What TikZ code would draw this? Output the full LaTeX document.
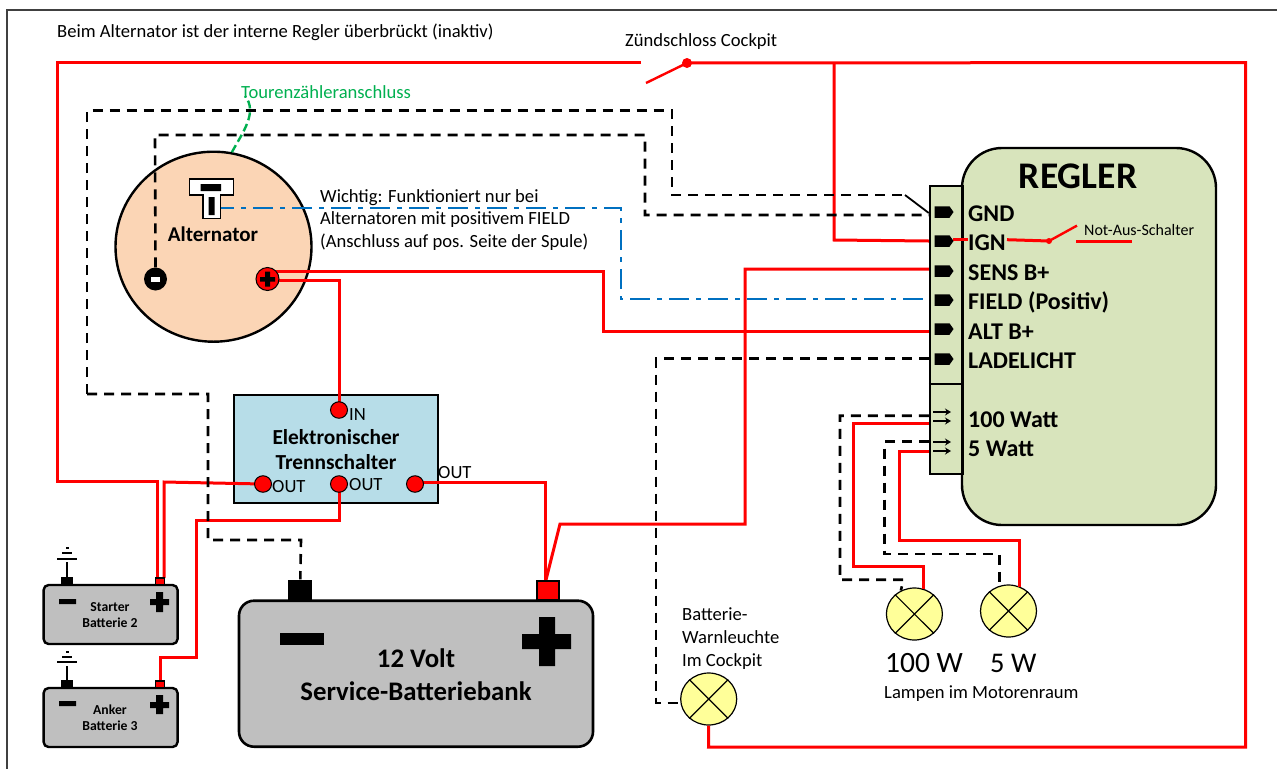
\documentclass[tikz,border=0pt]{standalone}
\usepackage{fontspec}
\setmainfont{Carlito}
\usetikzlibrary{shapes.geometric,shapes.symbols,arrows.meta}
\pgfdeclarelayer{bodies}
\pgfdeclarelayer{tops}
\pgfsetlayers{bodies,main,tops}
\newcommand{\fsz}[1]{\fontsize{#1}{#1}\selectfont}
\definecolor{wirered}{HTML}{FF0000}
\definecolor{wireblue}{HTML}{0070C0}
\definecolor{wiregreen}{HTML}{00B050}
\definecolor{reglergreen}{HTML}{D8E4BC}
\definecolor{altpeach}{HTML}{FBD5B5}
\definecolor{trennblue}{HTML}{B7DDE8}
\definecolor{battgrey}{HTML}{BFBFBF}
\definecolor{lampyellow}{HTML}{FFFF99}
\tikzset{
  x=1pt,y=-1pt,
  redwire/.style={draw=wirered,line width=3pt,line join=miter},
  blackdash/.style={draw=black,line width=2.6pt,dash pattern=on 10pt off 7pt},
  bluewire/.style={draw=wireblue,line width=2.5pt,dash pattern=on 20pt off 7pt on 5pt off 7pt},
  greenwire/.style={draw=wiregreen,line width=2.4pt,dash pattern=on 8pt off 4pt},
  box/.style={draw=black,line width=2.4pt,inner sep=0pt},
  pinshape/.style={signal,signal to=east,signal pointer angle=110,fill=black,inner sep=0pt,minimum width=19pt,minimum height=11.5pt},
  redport/.style={ellipse,draw=black,line width=1pt,fill=wirered,inner sep=0pt,minimum width=17pt,minimum height=16.5pt},
  lamp/.style={ellipse,draw=black,line width=1.2pt,fill=lampyellow,inner sep=0pt,minimum width=56pt,minimum height=52pt},
  lbl/.style={inner sep=0pt,anchor=west,font=\fsz{18.6}},
  pinlbl/.style={inner sep=0pt,anchor=west,font=\fsz{24}\bfseries},
  smallbatt/.style={box,fill=battgrey,rounded corners=5pt,minimum width=134pt,minimum height=59pt},
  smalltext/.style={inner sep=0pt,align=center,font=\fsz{13.7}\bfseries},
}
\begin{document}
\begin{tikzpicture}
\useasboundingbox (0,0) rectangle (1277,769);

% ---------- bodies
\begin{pgfonlayer}{bodies}
\fill[white] (0,0) rectangle (1277,769);
\draw[color=black!75,line width=1.3pt] (1277,10) -- (7,10) -- (7,769);
\node[box,fill=altpeach,ellipse,minimum width=196pt,minimum height=190pt] (alt) at (213.5,246.7) {};
\node[box,fill=reglergreen,rounded corners=40pt,minimum width=254pt,minimum height=377pt] (regler) at (1089,336.5) {};
\node[box,fill=reglergreen,minimum width=32.4pt,minimum height=288pt] (tab) at (946.2,330) {};
\node[box,fill=trennblue,minimum width=204pt,minimum height=108pt] (trenn) at (336,449) {};
\node[box,line width=2.6pt,fill=battgrey,rounded corners=15pt,minimum width=354pt,minimum height=146pt] (bank) at (416,673.7) {};
\node[smallbatt] (starter) at (110.6,614.5) {};
\node[smallbatt] (anker) at (110.6,717.5) {};
\node[lamp] (lampW) at (708.7,699) {};
\node[lamp] (lampA) at (914.4,614) {};
\node[lamp] (lampB) at (1008.5,611) {};
\end{pgfonlayer}
\draw[line width=2.2pt] (tab.west |- 0,384) -- (tab.east |- 0,384);
\foreach \l in {lampW,lampA,lampB}{
  \draw[line width=1.2pt] (\l.45) -- (\l.225) (\l.135) -- (\l.315);
}

% ---------- pins and terminals
\begin{pgfonlayer}{tops}
\node[pinshape] (pGND) at (942,212) {};
\node[pinshape] (pIGN) at (942,241) {};
\node[pinshape] (pSENS) at (942,271) {};
\node[pinshape] (pFIELD) at (942,300) {};
\node[pinshape] (pALT) at (942,329) {};
\node[pinshape] (pLADE) at (942,359) {};
\node[redport] (pIN) at (339,410) {};
\node[redport] (pO1) at (263,484) {};
\node[redport] (pO2) at (339,484) {};
\node[redport] (pO3) at (415,484) {};
% alternator terminals
\node[ellipse,fill=black,inner sep=0pt,minimum width=23pt,minimum height=23pt] (altneg) at (155.5,279) {};
\fill[white] (151,276.5) rectangle (160,281.5);
\node[ellipse,draw=black,line width=1pt,fill=wirered,inner sep=0pt,minimum width=23pt,minimum height=23pt] (altpos) at (267.5,279) {};
\fill[black] (260,277) rectangle (275,281.5) (265,271.5) rectangle (270,286.5);
% alternator T symbol
\draw[line width=1.2pt,fill=white] (189.5,179) -- (233.5,179) -- (233.5,195) -- (220.5,195) -- (220.5,218.5) -- (203,218.5) -- (203,195) -- (189.5,195) -- cycle;
\fill[black] (200.5,184) rectangle (221,191) (208.5,197) rectangle (214.5,215);
\coordinate (altT) at (214,208);
% battery terminals
\node[fill=black,inner sep=0pt,minimum width=24pt,minimum height=21pt] (bankneg) at (300.3,590) {};
\node[draw=black,line width=2pt,fill=wirered,inner sep=0pt,minimum width=22pt,minimum height=19pt] (bankpos) at (547.5,590.5) {};
\node[fill=black,inner sep=0pt,minimum width=12pt,minimum height=8pt] (sneg) at (66.5,581) {};
\node[draw=black,line width=1.5pt,fill=wirered,inner sep=0pt,minimum width=9pt,minimum height=7pt] (spos) at (160,581.5) {};
\node[fill=black,inner sep=0pt,minimum width=12pt,minimum height=8pt] (aneg) at (66.5,684) {};
\node[draw=black,line width=1.5pt,fill=wirered,inner sep=0pt,minimum width=9pt,minimum height=7pt] (apos) at (160,684.5) {};
\end{pgfonlayer}
% battery signs
\fill[black] (280,633) rectangle (324,645);
\fill[black] (522,634) rectangle (571,649) (539,617) rectangle (555,666);
\fill[black] (59,599) rectangle (76,604) (150,599) rectangle (169,605) (156,592) rectangle (163,612);
\fill[black] (59,701) rectangle (76,706) (150,702) rectangle (169,708) (156,695) rectangle (163,714);
% earth symbols
\draw[line width=2pt] (sneg.north) -- (66.5,562) (57,558.5) -- (77,558.5);
\draw[line width=2pt] (62,553) -- (72,553) (66,548) -- (69,548);
\draw[line width=2pt] (aneg.north) -- (66.5,666) (57,662) -- (77,662);
\draw[line width=2pt] (62,657) -- (72,657) (66,652) -- (69,652);
% double arrows of the lamp outputs
\begin{pgfonlayer}{tops}
\foreach \a/\b in {412/421,442/451}{
  \draw[line width=2.2pt,-{Stealth[length=6pt,width=7pt]}] (933,\a) -- (951,\a);
  \draw[line width=2.2pt,-{Stealth[length=6pt,width=7pt]}] (933,\b) -- (951,\b);
}
\end{pgfonlayer}

% ---------- wire ends on the left side of the plug
\coordinate (eGND) at (tab.west |- 0,213);
\coordinate (eGNDb) at (tab.west |- 0,215);
\coordinate (eIGN) at (tab.west |- pIGN);
\coordinate (eSENS) at (tab.west |- 0,269);
\coordinate (eFIELD) at (tab.west |- 0,299);
\coordinate (eALT) at (tab.west |- 0,331.5);
\coordinate (eLADE) at (tab.west |- 0,358.5);
\coordinate (e100d) at (tab.west |- 0,415.7);
\coordinate (e100r) at (tab.west |- 0,423.7);
\coordinate (e5d) at (tab.west |- 0,441.7);
\coordinate (e5r) at (tab.west |- 0,451.7);
% ignition switch
\coordinate (swA) at (646,83);
\node[circle,fill=wirered,inner sep=0pt,minimum size=10pt] (swB) at (687,63) {};
\coordinate (nsA) at (1049,241);

% ---------- red wires
\draw[redwire] (641,62.5) -- (57,62.5) -- (57,481) -- (157,481) -- (157,578);
\draw[redwire] (pO1.center) -- (164,482) -- (164,578);
\draw[redwire,line width=2.4pt] (swA) -- (swB.center);
\draw[redwire] (swB.center) -- (1245.5,62.5) -- (1245.5,747) -- (708.5,747) -- (lampW.south);
\draw[redwire] (834,62.5) -- (834,240) -- (eIGN);
\draw[redwire] (altpos.center) ++(8,-8) -- (603,271) -- (603,331.5) -- (eALT);
\draw[redwire] (altpos.center) ++(5,1.7) -- (339,280.7) -- (pIN.center);
\draw[redwire] (pO3.center) -- (415,482) -- (545.7,482) -- (545.7,581);
\draw[redwire] (545.7,581) -- (560,524) -- (745,524) -- (745,269) -- (eSENS);
\draw[redwire] (pO2.center) -- (339,520.7) -- (196,520.7) -- (196,657) -- (160,657) -- (apos.north);
\draw[redwire] (e100r) -- (853.8,423.7) -- (853.8,566) -| (lampA.70);
\draw[redwire] (e5r) -- (899,451.7) -- (899,540) -| (lampB.65);
% IGN stub and Not-Aus switch
\draw[redwire] (953,239.7) -- (967.5,239.7);
\draw[redwire] (1007,239.7) -- (nsA);
\fill[wirered] (nsA) circle (3pt);
\draw[redwire,line width=2.4pt] (nsA) -- (1077,225.6);
\coordinate (nsB) at (1076,241);
\draw[redwire] (nsB) -- (1132,241);

% ---------- black dashed wires
\draw[blackdash] (87,394) -- (87,110.7) -- (672,110.7) -- (672,195) -- (905,195);
\draw[line width=1.8pt] (905,195) -- (eGND);
\draw[blackdash] (87,394) -- (208,394) -- (208,540) -- (301,540) -- (bankneg.north);
\draw[blackdash] (altneg.north) -- (155,135) -- (645,135) -- (645,215) -- (eGNDb);
\draw[blackdash] (eLADE) -- (656,358.5) -- (656,703) -- (lampW.west |- 0,703);
\draw[blackdash] (e100d) -- (840,415.7) -- (840,579.7) -- (903.4,579.7) -- (lampA.120);
\draw[blackdash] (e5d) -- (884.7,441.7) -- (884.7,554) -| (lampB.110);

% ---------- blue and green wires
\draw[bluewire] (altT) -- (621,208) -- (621,299) -- (eFIELD);
\draw[greenwire] (alt.79) .. controls (243,132) and (258,112) .. (245,96);

% ---------- texts
\node[lbl] (tBeim) at (57,32.5) {Beim Alternator ist der interne Regler überbrückt (inaktiv)};
\node[lbl] (tZuend) at (625,41.5) {Zündschloss Cockpit};
\node[lbl,text=wiregreen] (tTour) at (241,92) {Tourenzähleranschluss};
\node[lbl,align=left] (tWichtig) at (320,220) {Wichtig: Funktioniert nur bei\\[3.7pt]Alternatoren mit positivem FIELD\\[3.7pt](Anschluss auf pos. Seite der Spule)};
\node[inner sep=0pt,font=\fsz{21}\bfseries] (tAlt) at (213,234.5) {Alternator};
\node[inner sep=0pt,font=\fsz{37.6}\bfseries] (tRegler) at (1078,176) {REGLER};
\node[pinlbl] (tGND) at (968,214) {GND};
\node[pinlbl] (tIGN) at (968,243) {IGN};
\node[pinlbl] (tSENS) at (968,272.5) {SENS B+};
\node[pinlbl] (tFIELD) at (968,302) {FIELD (Positiv)};
\node[pinlbl] (tALT) at (968,332) {ALT B+};
\node[pinlbl] (tLADE) at (968,361) {LADELICHT};
\node[pinlbl] (t100) at (968,419.5) {100 Watt};
\node[pinlbl] (t5) at (968,448.5) {5 Watt};
\node[lbl,font=\fsz{16}] (tNot) at (1084,229.5) {Not-Aus-Schalter};
\node[lbl] (tIN) at (349,414.5) {IN};
\node[lbl] (tO1) at (272,487) {OUT};
\node[lbl] (tO2) at (349,485) {OUT};
\node[lbl] (tO3) at (438,473) {OUT};
\node[inner sep=0pt,align=center,font=\fsz{21.4}\bfseries] (tTrenn) at (336,449.5) {Elektronischer\\[4pt]Trennschalter};
\node[inner sep=0pt,align=center,font=\fsz{26.8}\bfseries] (tBank) at (416,674.5) {12 Volt\\[6pt]Service-Batteriebank};
\node[smalltext] (tS) at (110,615) {Starter\\[2.5pt]Batterie 2};
\node[smalltext] (tA) at (110,718) {Anker\\[2.5pt]Batterie 3};
\node[lbl,align=left] (tWarn) at (682,638.5) {Batterie-\\[4.5pt]Warnleuchte\\[4.5pt]Im Cockpit};
\node[lbl,font=\fsz{29.5}] (t100W) at (885,663.5) {100 W};
\node[lbl,font=\fsz{28.5}] (t5W) at (990,663.5) {5 W};
\node[lbl] (tLamp) at (884,693.5) {Lampen im Motorenraum};
\end{tikzpicture}
\end{document}
